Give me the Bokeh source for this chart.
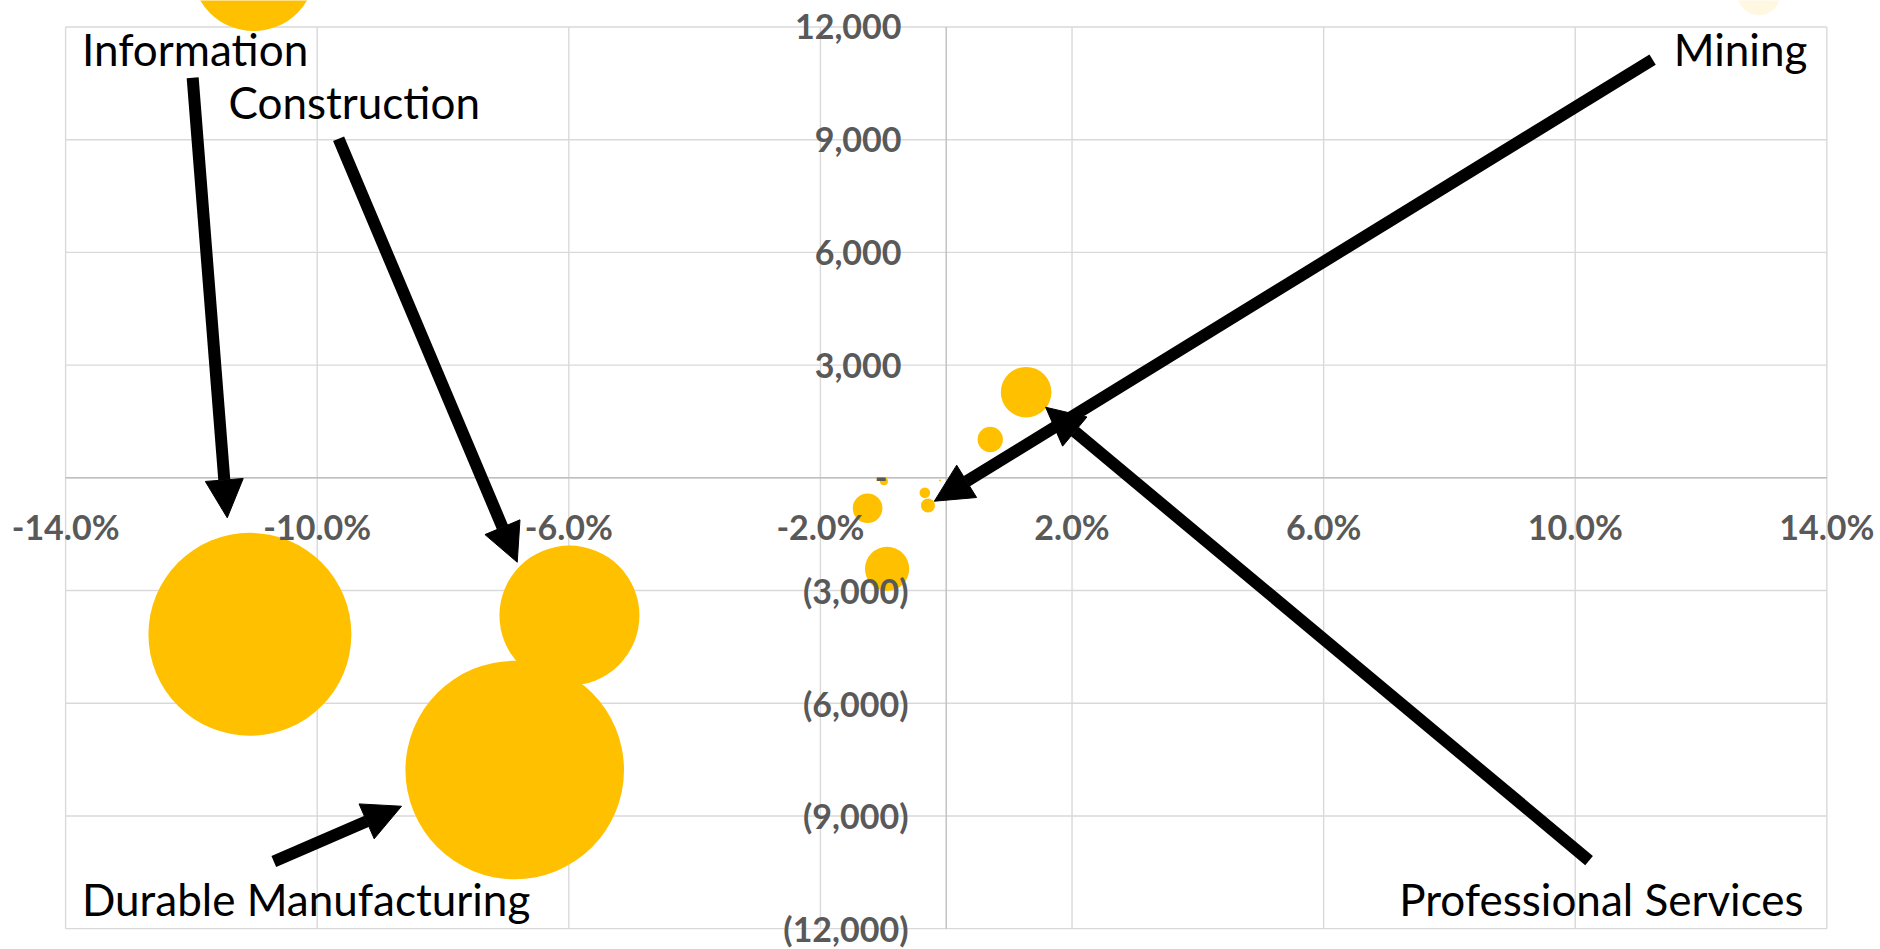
from bokeh.plotting import figure
from bokeh.models import Range1d, ColumnDataSource, Arrow, NormalHead
from bokeh.core.properties import value
from bokeh.embed import file_html
from bokeh.resources import INLINE

# Industry bubbles: employment growth (%), change in jobs, bubble size (area)
growth_pct = [-6.86, -11.07, -5.99, -11.01, 1.27, -0.94, -1.25, 0.70, -0.29, -0.34, -0.99, -0.10]
job_change = [-7778, -4166, -3665, 13540, 2279, -2423, -809, 1020, -737, -400, -90, -70]
bubble_size = [1195, 1030, 490, 384, 64, 49, 22, 16, 4.9, 2.8, 1.6, 0.1]

# Off-scale point at the top edge, only its faint rim shows
offscale_pct = [12.92]
offscale_jobs = [12900]
offscale_size = [48]

# Axis ticks and labels
x_ticks = [-14, -10, -6, -2, 2, 6, 10, 14]
x_labels = ["-14.0%", "-10.0%", "-6.0%", "-2.0%", "2.0%", "6.0%", "10.0%", "14.0%"]
y_ticks = [-12000, -9000, -6000, -3000, 0, 3000, 6000, 9000, 12000]
y_labels = ["(12,000)", "(9,000)", "(6,000)", "(3,000)", "-", "3,000", "6,000", "9,000", "12,000"]

# Call-out labels and their arrows
callout_text = ["Information", "Construction", "Durable Manufacturing", "Mining", "Professional Services"]
callout_x = [-13.74, -11.41, -13.74, 13.69, 13.63]
callout_y = [11415, 9999, -11224, 11415, -11224]
callout_align = ["left", "left", "left", "right", "right"]
arrow_x0 = [-11.98, -9.66, -10.69, 11.23, 10.22]
arrow_y0 = [10648, 9024, -10214, 11134, -10187]
arrow_x1 = [-11.43, -6.82, -8.66, -0.19, 1.58]
arrow_y1 = [-1065, -2247, -8742, -623, 1879]

BUBBLE = "#FFC000"
MAX_RADIUS = 109.3  # px, radius of the largest bubble
GRID = "#D9D9D9"
AXIS = "#BFBFBF"
TICK_COLOR = "#595959"
FONT = "Lato"
TICK_SIZE = "34px"


def diameters(sizes):
    top = max(bubble_size)
    return [2 * MAX_RADIUS * (s / top) ** 0.5 for s in sizes]


p = figure(
    width=1880, height=949,
    x_range=Range1d(-15.035, 14.853), y_range=Range1d(-12555, 12705),
    x_axis_type=None, y_axis_type=None,
    output_backend="svg", toolbar_location=None, min_border=0,
)
p.outline_line_color = None
p.background_fill_color = "white"
p.border_fill_color = "white"

x_lo, x_hi = x_ticks[0], x_ticks[-1]
y_lo, y_hi = y_ticks[0], y_ticks[-1]

# gridlines, bounded to the plot area
p.segment(x0=x_ticks, y0=[y_lo] * len(x_ticks), x1=x_ticks, y1=[y_hi] * len(x_ticks),
          line_color=GRID, line_width=1.4)
p.segment(x0=[x_lo] * len(y_ticks), y0=y_ticks, x1=[x_hi] * len(y_ticks), y1=y_ticks,
          line_color=GRID, line_width=1.4)
# axis lines crossing at zero
p.segment(x0=[0, x_lo], y0=[y_lo, 0], x1=[0, x_hi], y1=[y_hi, 0],
          line_color=AXIS, line_width=1.4)

# bubbles
bubbles = ColumnDataSource(dict(x=growth_pct, y=job_change, d=diameters(bubble_size)))
p.scatter(x="x", y="y", size="d", source=bubbles, marker="circle",
          fill_color=BUBBLE, line_color=None)
p.scatter(x=offscale_pct, y=offscale_jobs, size=diameters(offscale_size), marker="circle",
          fill_color=BUBBLE, fill_alpha=0.12, line_color=None)

# x tick labels below the horizontal axis
p.text(x=x_ticks, y=[0] * len(x_ticks), text=x_labels, y_offset=49,
       text_align="center", text_baseline="middle",
       text_font=value(FONT), text_font_style="bold", text_font_size=TICK_SIZE,
       text_color=TICK_COLOR)


# y tick labels left of the vertical axis (accounting style: room kept for ")")
def label_shift(s):
    if s.startswith("("):
        return -37.7
    if s == "-":
        return -58.7
    return -44.7


ylab = ColumnDataSource(dict(x=[0] * len(y_ticks), y=y_ticks, t=y_labels,
                             dx=[label_shift(s) for s in y_labels]))
p.text(x="x", y="y", text="t", x_offset="dx", source=ylab,
       text_align="right", text_baseline="middle",
       text_font=value(FONT), text_font_style="bold", text_font_size=TICK_SIZE,
       text_color=TICK_COLOR)

# call-out arrows
arrows = ColumnDataSource(dict(x0=arrow_x0, y0=arrow_y0, x1=arrow_x1, y1=arrow_y1))
p.add_layout(Arrow(x_start="x0", y_start="y0", x_end="x1", y_end="y1", source=arrows,
                   line_color="black", line_width=12,
                   end=NormalHead(size=38, fill_color="black", line_color="black", line_width=1)))

# call-out labels
callouts = ColumnDataSource(dict(x=callout_x, y=callout_y, t=callout_text, a=callout_align))
p.text(x="x", y="y", text="t", text_align="a", source=callouts,
       text_baseline="alphabetic", text_font=value(FONT), text_font_size="44px",
       text_color="black")

open("out.html", "w").write(file_html(p, INLINE))
